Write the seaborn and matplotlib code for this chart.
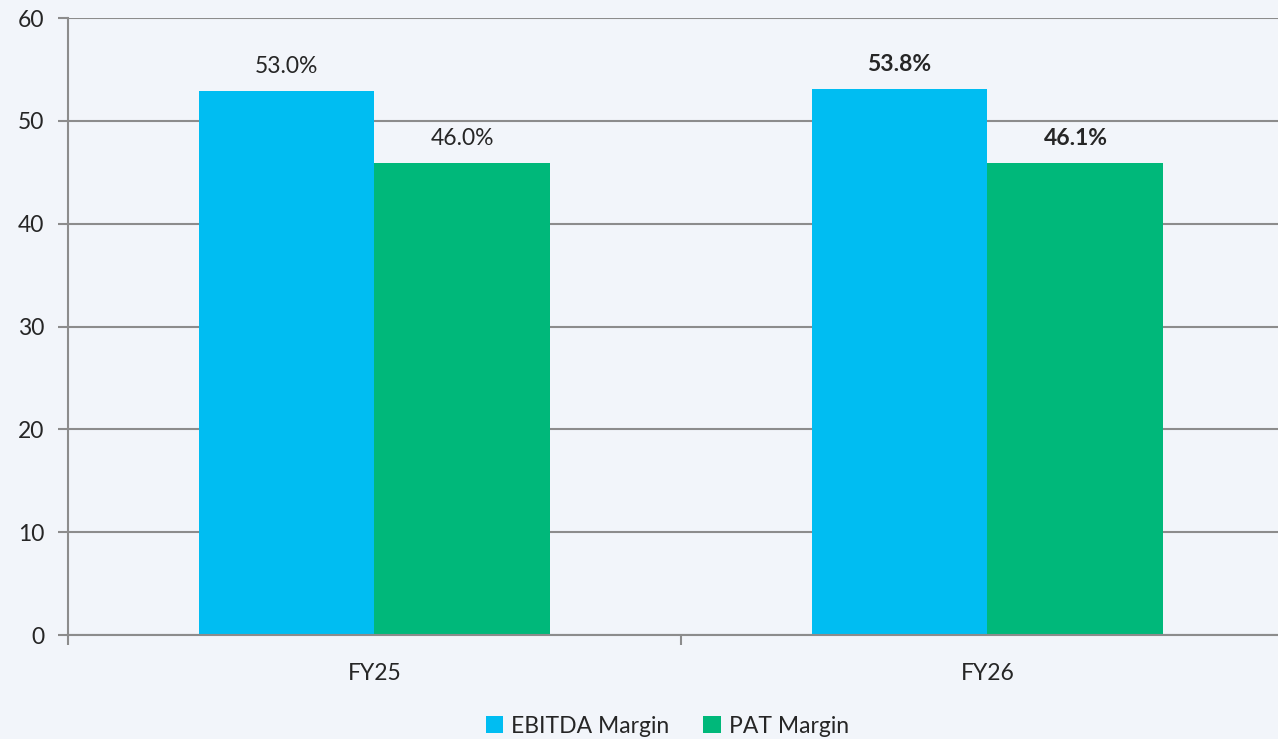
import pandas as pd
import seaborn as sns
from matplotlib import pyplot as plt

# data
years = ['FY25', 'FY26']
series = ['EBITDA Margin', 'PAT Margin']
ebitda = [52.9, 53.1]
pat = [45.9, 45.9]
ebitda_labels = ['53.0%', '53.8%']
pat_labels = ['46.0%', '46.1%']
label_bold = [False, True]
colors = ['#00BDF2', '#00B87A']
bg = '#F2F5FA'

df = pd.DataFrame({
    'year': years * 2,
    'series': [series[0]] * 2 + [series[1]] * 2,
    'value': ebitda + pat,
})

sns.set_style('white')
plt.rcParams['font.family'] = ['Lato', 'DejaVu Sans']

fig = plt.figure(figsize=(12.78, 7.39), dpi=100, facecolor=bg)
# plot area runs a little past the right edge, as in the original
ax = fig.add_axes([0.0532, 0.1407, 0.9593, 0.8349])
ax.set_facecolor(bg)

sns.barplot(data=df, x='year', y='value', hue='series', order=years,
            hue_order=series, palette=colors, width=0.574, saturation=1,
            linewidth=0, ax=ax, legend=True)

ax.set_xlim(-0.5, 1.5)
ax.set_ylim(0, 60)
ax.set_yticks(range(0, 61, 10))
ax.set_xlabel('')
ax.set_ylabel('')
ax.grid(axis='y', color='#8c8c8c', linewidth=1.5)
ax.set_axisbelow(True)
for s in ['top', 'right']:
    ax.spines[s].set_visible(False)
for s in ['left', 'bottom']:
    ax.spines[s].set_color('#8c8c8c')
    ax.spines[s].set_linewidth(1.5)

# x ticks sit between categories, labels at the centres
ax.set_xticks([-0.5, 0.5, 1.5], minor=False)
ax.set_xticklabels([])
ax.set_xticks([0, 1], minor=True)
ax.set_xticklabels(years, minor=True)
ax.tick_params(axis='x', which='major', bottom=True, length=7, width=1.5, color='#8c8c8c')
ax.tick_params(axis='x', which='minor', bottom=True, length=0, pad=20, labelsize=16.5)
ax.tick_params(axis='y', left=True, length=7, width=1.5, color='#8c8c8c',
               labelsize=16.5, pad=10)

# value labels
for cont, labels in zip(ax.containers, [ebitda_labels, pat_labels]):
    for bar, lab, b in zip(cont, labels, label_bold):
        ax.annotate(lab, (bar.get_x() + bar.get_width() / 2, bar.get_height()),
                    xytext=(0, 10), textcoords='offset points', ha='center',
                    va='bottom', fontsize=16.5, fontweight='bold' if b else 'normal')

leg = ax.get_legend()
handles = leg.legend_handles
leg.remove()
fig.legend(handles, series, loc='lower center', bbox_to_anchor=(0.522, -0.025),
           ncol=2, frameon=False, fontsize=16.5, handlelength=0.75, handleheight=0.75,
           handletextpad=0.35, columnspacing=1.5)

fig.savefig('out.png', dpi=100, facecolor=bg)
